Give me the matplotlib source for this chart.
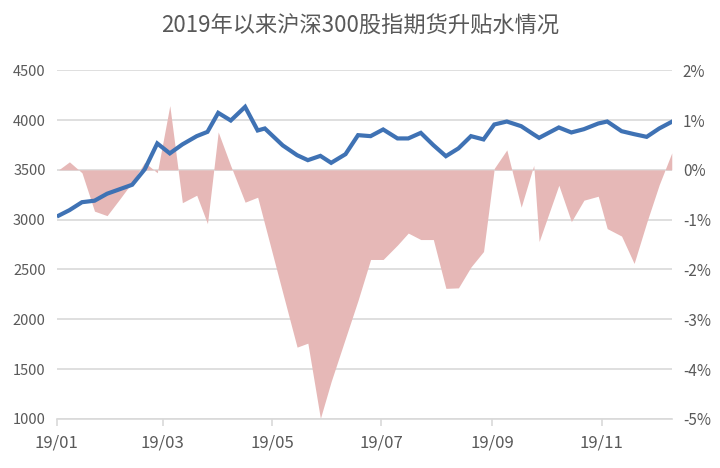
import numpy as np
import pandas as pd
import matplotlib
matplotlib.use("Agg")
import matplotlib.pyplot as plt
import matplotlib.dates as mdates
from matplotlib.ticker import FuncFormatter

plt.rcParams['font.family'] = ['Noto Sans CJK SC', 'DejaVu Sans']

dates = pd.to_datetime([
    "2019-01-02", "2019-01-08", "2019-01-15", "2019-01-22", "2019-01-29",
    "2019-02-05", "2019-02-12", "2019-02-19", "2019-02-26", "2019-03-05",
    "2019-03-12", "2019-03-20", "2019-03-26", "2019-04-01", "2019-04-08",
    "2019-04-16", "2019-04-23", "2019-04-27", "2019-05-07", "2019-05-15",
    "2019-05-21", "2019-05-28", "2019-06-03", "2019-06-11", "2019-06-18",
    "2019-06-25", "2019-07-02", "2019-07-10", "2019-07-16", "2019-07-23",
    "2019-07-30", "2019-08-06", "2019-08-13", "2019-08-20", "2019-08-27",
    "2019-09-02", "2019-09-09", "2019-09-17", "2019-09-24", "2019-09-27",
    "2019-10-08", "2019-10-15", "2019-10-22", "2019-10-30", "2019-11-04",
    "2019-11-12", "2019-11-19", "2019-11-26", "2019-12-03", "2019-12-10",
])

# CSI 300 index level (left axis)
index_level = [
    3040, 3095, 3175, 3190, 3260, 3305, 3350, 3505, 3765, 3665,
    3755, 3838, 3881, 4072, 3995, 4132, 3895, 3915, 3745, 3647,
    3597, 3640, 3570, 3657, 3848, 3838, 3905, 3815, 3815, 3871,
    3748, 3637, 3715, 3838, 3805, 3955, 3985, 3938, 3855, 3821,
    3925, 3875, 3908, 3965, 3985, 3888, 3858, 3831, 3915, 3982,
]

# futures basis, % (right axis)
basis_pct = [
    0.00, 0.16, -0.06, -0.83, -0.92, -0.59, -0.25, 0.15, -0.06, 1.29,
    -0.66, -0.51, -1.08, 0.76, 0.08, -0.65, -0.55, -1.10, -2.47, -3.56,
    -3.48, -4.99, -4.25, -3.38, -2.62, -1.80, -1.80, -1.51, -1.27, -1.40,
    -1.40, -2.38, -2.37, -1.95, -1.64, 0.03, 0.40, -0.75, 0.09, -1.44,
    -0.31, -1.04, -0.61, -0.53, -1.18, -1.33, -1.88, -1.06, -0.30, 0.34,
]

left_ticks = [1000, 1500, 2000, 2500, 3000, 3500, 4000, 4500]
right_ticks = [-5, -4, -3, -2, -1, 0, 1, 2]

text_color = '#595959'
grid_color = '#D9D9D9'

fig = plt.figure(figsize=(7.2, 4.68), dpi=100)
ax = fig.add_axes([0.079, 0.105, 0.854, 0.745])
ax2 = ax.twinx()

# area on the secondary axis, drawn below the line
ax2.fill_between(dates, 0, basis_pct, color='#E6B8B7', linewidth=0)
ax2.set_ylim(-5, 2)
ax2.set_yticks(right_ticks)
ax2.yaxis.set_major_formatter(FuncFormatter(lambda v, p: f"{int(v)}%"))
for y in right_ticks:
    ax2.axhline(y, color=grid_color, linewidth=1.2, zorder=0)

ax.plot(dates, index_level, color='#3F72B4', linewidth=3.0, solid_joinstyle='miter')
ax.set_ylim(1000, 4500)
ax.set_yticks(left_ticks)

ax.set_zorder(ax2.get_zorder() + 1)
ax.patch.set_visible(False)

ax.set_xlim(pd.Timestamp("2019-01-01"), dates[-1])
ax.xaxis.set_major_locator(mdates.MonthLocator(bymonth=[1, 3, 5, 7, 9, 11]))
ax.xaxis.set_major_formatter(mdates.DateFormatter('%y/%m'))

for a in (ax, ax2):
    for s in ('top', 'left', 'right', 'bottom'):
        a.spines[s].set_visible(False)
ax.spines['bottom'].set_visible(True)
ax.spines['bottom'].set_color(grid_color)
ax.spines['bottom'].set_linewidth(1.2)

ax.tick_params(axis='y', length=0, labelsize=10.5, labelcolor=text_color, pad=8)
ax2.tick_params(axis='y', length=0, labelsize=11, labelcolor=text_color, pad=8)
ax.tick_params(axis='x', length=5, width=1.2, color=grid_color,
               labelsize=12, labelcolor=text_color, pad=6)

fig.suptitle('2019年以来沪深300股指期货升贴水情况', x=0.5, y=0.968,
             fontsize=16, color=text_color)

fig.savefig('out.png', dpi=100)
